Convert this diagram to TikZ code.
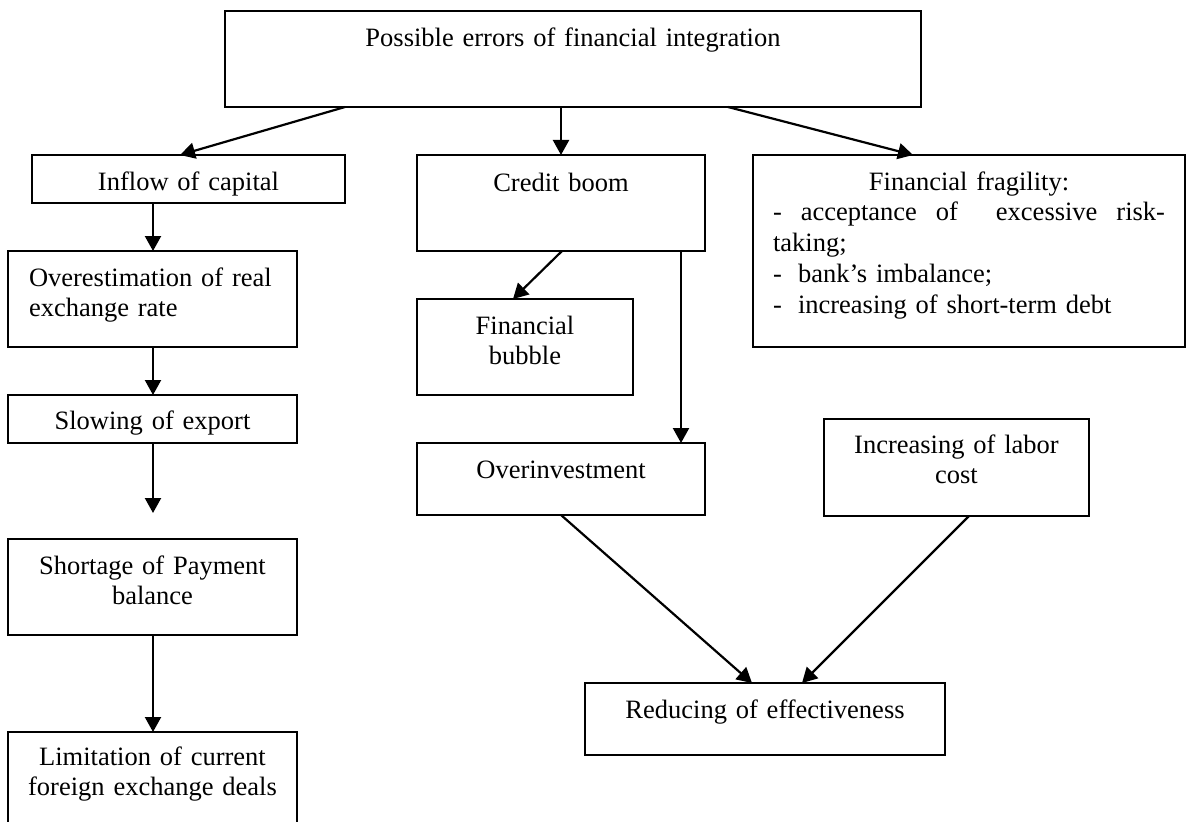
\documentclass[tikz,border=0pt]{standalone}
\usepackage{fontspec}
\setmainfont{Liberation Serif}
\usetikzlibrary{arrows.meta}
\newcommand{\dfs}{\fontsize{26.5pt}{30.75pt}\selectfont}
\tikzset{
  box/.style={draw, line width=2.2pt, rectangle, anchor=north west, inner xsep=10pt,
    inner ysep=0pt, outer sep=0pt, font=\dfs},
  arr/.style={line width=2.2pt, -{Triangle[length=15pt,width=16pt]}},
}
\begin{document}
\begin{tikzpicture}[x=1pt,y=-1pt]
\useasboundingbox (0,0) rectangle (1190,821);
\clip (0,0) rectangle (1190,821);
\fill[white] (0,0) rectangle (1190,821);

\node[box, text width=676pt, text height=36pt, text depth=60pt, align=center] (top) at (225,11) {Possible errors of financial integration};
\node[box, text width=293pt, text height=35pt, text depth=13pt, align=center] (inflow) at (32,155) {Inflow of capital};
\node[box, inner xsep=21pt, text width=247pt, text height=35pt, text depth=61pt, align=left] (over) at (8,251) {Overestimation of real\\exchange rate};
\node[box, text width=269pt, text height=34pt, text depth=14pt, align=center] (slow) at (8,395) {Slowing of export};
\node[box, text width=269pt, text height=35pt, text depth=61pt, align=center] (short) at (8,539) {Shortage of Payment\\balance};
\node[box, text width=269pt, text height=33pt, text depth=63pt, align=center] (limit) at (8,732) {Limitation of current\\foreign exchange deals};
\node[box, text width=268pt, text height=36pt, text depth=60pt, align=center] (credit) at (417,155) {Credit boom};
\node[box, text width=196pt, text height=35pt, text depth=61pt, align=center] (bubble) at (417,299) {Financial\\bubble};
\node[box, text width=268pt, text height=35pt, text depth=37pt, align=center] (overinv) at (417,443) {Overinvestment};
\node[box, inner xsep=20pt, text width=392pt, text height=35pt, text depth=157pt, align=left] (frag) at (753,155) {\makebox[\linewidth]{Financial fragility:}\\
\makebox[\linewidth][l]{-\hfill acceptance\hfill of\hfill\hfill excessive\hfill risk-}\\
taking;\\
\makebox[25pt][l]{-}bank’s imbalance;\\
\makebox[25pt][l]{-}increasing of short-term debt};
\node[box, text width=245pt, text height=34pt, text depth=63pt, align=center] (labor) at (824,419) {Increasing of labor\\cost};
\node[box, text width=340pt, text height=35pt, text depth=37pt, align=center] (reduce) at (585,683) {Reducing of effectiveness};

\draw[arr] ([xshift=120pt]top.south west) -- ([xshift=148pt]inflow.north west);
\draw[arr] ([xshift=336pt]top.south west) -- ([xshift=144pt]credit.north west);
\draw[arr] ([xshift=503pt]top.south west) -- ([xshift=160pt]frag.north west);
\draw[arr] ([xshift=121pt]inflow.south west) -- ([xshift=145pt]over.north west);
\draw[arr] ([xshift=145pt]over.south west) -- ([xshift=145pt]slow.north west);
\draw[arr, shorten >=26pt] ([xshift=145pt]slow.south west) -- ([xshift=145pt]short.north west);
\draw[arr] ([xshift=145pt]short.south west) -- ([xshift=145pt]limit.north west);
\draw[arr] ([xshift=145pt]credit.south west) -- ([xshift=96pt]bubble.north west);
\draw[arr] ([xshift=264pt]credit.south west) -- ([xshift=264pt]overinv.north west);
\draw[arr] ([xshift=144pt]overinv.south west) -- ([xshift=167pt]reduce.north west);
\draw[arr] ([xshift=145pt]labor.south west) -- ([xshift=217pt]reduce.north west);
\end{tikzpicture}
\end{document}
